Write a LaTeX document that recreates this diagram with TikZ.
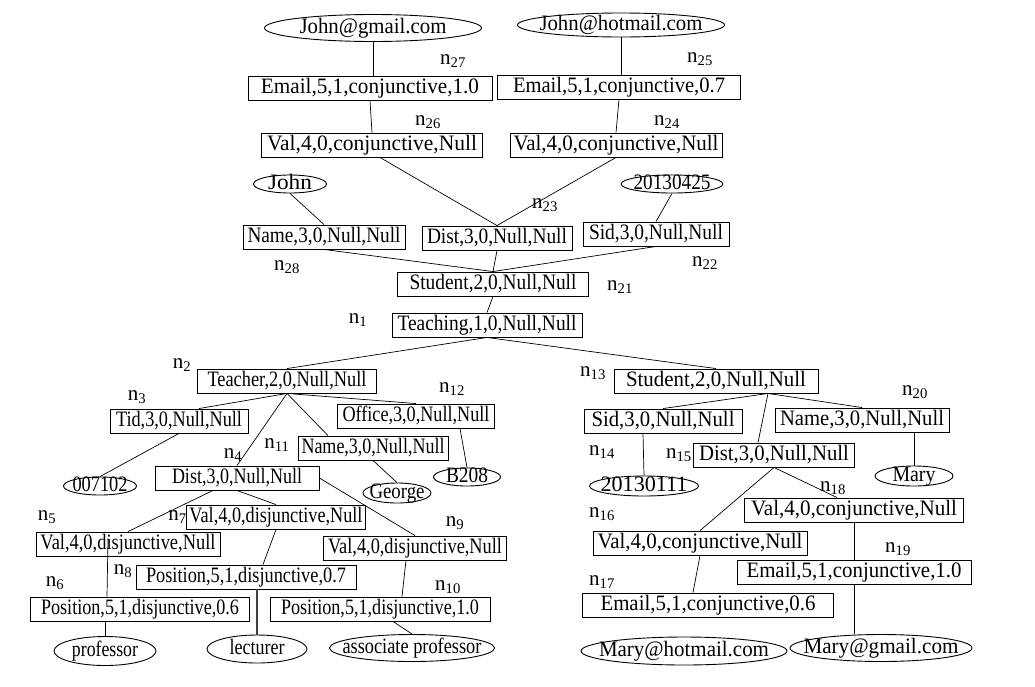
\documentclass[tikz,border=0pt]{standalone}
\usepackage{fontspec}
\usepackage{graphicx}
\setmainfont{Liberation Serif}
\usetikzlibrary{shapes.geometric,calc}

% squeeze a text horizontally to a given width
\newcommand\fitw[2]{\resizebox{#1}{\height}{#2}}

\begin{document}
\begin{tikzpicture}[x=1pt,y=-1pt,
  every node/.style={font=\fontsize{22}{26}\selectfont},
  box/.style={draw,rectangle,inner sep=0pt,minimum height=24pt,text height=15pt,text depth=5pt,line width=0.9pt},
  oval/.style={draw,ellipse,inner sep=0pt,line width=0.9pt},
  word/.style={inner sep=0pt,text height=15pt,text depth=5pt},
  tag/.style={inner sep=0pt,font=\fontsize{21}{25}\selectfont},
  link/.style={line width=0.7pt}]

\useasboundingbox (0,0) rectangle (1035,686);

% ---------- upper student subtree ----------
\node[oval,minimum width=217pt,minimum height=27pt] (ejg) at (373,28) {};
\node[word] (ejg-t) at (ejg) {\fitw{147pt}{John@gmail.com}};
\node[oval,minimum width=207pt,minimum height=24pt] (ejh) at (621,25) {};
\node[word] (ejh-t) at (ejh) {\fitw{163pt}{John@hotmail.com}};

\node[box,minimum width=244pt] (n27) at (370,88) {\fitw{218pt}{Email,5,1,conjunctive,1.0}};
\node[box,minimum width=243pt] (n25) at (619,87) {\fitw{212pt}{Email,5,1,conjunctive,0.7}};
\node[box,minimum width=221pt] (n26) at (372,145) {\fitw{210pt}{Val,4,0,conjunctive,Null}};
\node[box,minimum width=212pt] (n24) at (616,145) {\fitw{205pt}{Val,4,0,conjunctive,Null}};

\node[oval,minimum width=73pt,minimum height=18pt] (ejohn) at (290,184) {};
\node[word] (ejohn-t) at (ejohn) {\fitw{44pt}{John}};
\node[oval,minimum width=102pt,minimum height=18pt] (esid1) at (672,184) {};
\node[word] (esid1-t) at (esid1) {\fitw{77pt}{20130425}};

\node[box,minimum width=162pt] (n28) at (324,237) {\fitw{153pt}{Name,3,0,Null,Null}};
\node[box,minimum width=150pt] (n23) at (497,238) {\fitw{140pt}{Dist,3,0,Null,Null}};
\node[box,minimum width=146pt] (n22) at (656,234) {\fitw{134pt}{Sid,3,0,Null,Null}};
\node[box,minimum width=191pt] (n21) at (493,284) {\fitw{167pt}{Student,2,0,Null,Null}};
\node[box,minimum width=190pt] (n1) at (487,325) {\fitw{179pt}{Teaching,1,0,Null,Null}};

% ---------- teacher subtree ----------
\node[box,minimum width=179pt] (n2) at (287,381) {\fitw{159pt}{Teacher,2,0,Null,Null}};
\node[box,minimum width=138pt] (n3) at (179,421) {\fitw{126pt}{Tid,3,0,Null,Null}};
\node[box,minimum width=157pt] (n12) at (416,416) {\fitw{147pt}{Office,3,0,Null,Null}};
\node[box,minimum width=150pt] (n11) at (373,448) {\fitw{143pt}{Name,3,0,Null,Null}};
\node[box,minimum width=164pt] (n4) at (237,478) {\fitw{130pt}{Dist,3,0,Null,Null}};

\node[oval,minimum width=73pt,minimum height=18pt] (etid) at (100,486) {};
\node[word] (etid-t) at (etid) {\fitw{55pt}{007102}};
\node[oval,minimum width=68pt,minimum height=20pt] (egeorge) at (397,493) {};
\node[word] (egeorge-t) at (egeorge) {\fitw{55pt}{George}};
\node[oval,minimum width=67pt,minimum height=18pt] (eoffice) at (467,477) {};
\node[word] (eoffice-t) at (eoffice) {\fitw{42pt}{B208}};

\node[box,minimum width=179pt] (n7) at (276,517) {\fitw{173pt}{Val,4,0,disjunctive,Null}};
\node[box,minimum width=184pt] (n5) at (128,544) {\fitw{175pt}{Val,4,0,disjunctive,Null}};
\node[box,minimum width=183pt] (n9) at (415,548) {\fitw{174pt}{Val,4,0,disjunctive,Null}};
\node[box,minimum width=220pt] (n8) at (246,577) {\fitw{200pt}{Position,5,1,disjunctive,0.7}};
\node[box,minimum width=219pt] (n6) at (140,609) {\fitw{198pt}{Position,5,1,disjunctive,0.6}};
\node[box,minimum width=220pt] (n10) at (380,609) {\fitw{198pt}{Position,5,1,disjunctive,1.0}};

\node[oval,minimum width=102pt,minimum height=29pt] (eprof) at (105,651) {};
\node[word] (eprof-t) at (eprof) {\fitw{66pt}{professor}};
\node[oval,minimum width=100pt,minimum height=28pt] (electr) at (257,649) {};
\node[word] (electr-t) at (electr) {\fitw{55pt}{lecturer}};
\node[oval,minimum width=165pt,minimum height=27pt] (eassoc) at (412,648) {};
\node[word] (eassoc-t) at (eassoc) {\fitw{139pt}{associate professor}};

% ---------- lower student subtree ----------
\node[box,minimum width=204pt] (n13) at (716,381) {\fitw{180pt}{Student,2,0,Null,Null}};
\node[box,minimum width=158pt] (n14) at (663,421) {\fitw{143pt}{Sid,3,0,Null,Null}};
\node[box,minimum width=174pt] (n20) at (862,420) {\fitw{164pt}{Name,3,0,Null,Null}};
\node[box,minimum width=161pt] (n15) at (774,455) {\fitw{150pt}{Dist,3,0,Null,Null}};

\node[oval,minimum width=78pt,minimum height=20pt] (emary) at (914,476) {};
\node[word] (emary-t) at (emary) {\fitw{43pt}{Mary}};
\node[oval,minimum width=109pt,minimum height=20pt] (esid2) at (644,486) {};
\node[word] (esid2-t) at (esid2) {\fitw{87pt}{20130111}};

\node[box,minimum width=219pt] (n18) at (854,510) {\fitw{206pt}{Val,4,0,conjunctive,Null}};
\node[box,minimum width=214pt] (n16) at (700,543) {\fitw{205pt}{Val,4,0,conjunctive,Null}};
\node[box,minimum width=234pt] (n19) at (854,572) {\fitw{215pt}{Email,5,1,conjunctive,1.0}};
\node[box,minimum width=251pt] (n17) at (708,605) {\fitw{215pt}{Email,5,1,conjunctive,0.6}};

\node[oval,minimum width=206pt,minimum height=28pt] (emh) at (684,651) {};
\node[word] (emh-t) at (emh) {\fitw{170pt}{Mary@hotmail.com}};
\node[oval,minimum width=182pt,minimum height=27pt] (emg) at (881,648) {};
\node[word] (emg-t) at (emg) {\fitw{155pt}{Mary@gmail.com}};

% ---------- node numbers ----------
\node[tag] (l27) at (453,61) {n\textsubscript{27}};
\node[tag] (l25) at (700,59) {n\textsubscript{25}};
\node[tag] (l26) at (428,122) {n\textsubscript{26}};
\node[tag] (l24) at (667,122) {n\textsubscript{24}};
\node[tag] (l23) at (545,205) {n\textsubscript{23}};
\node[tag] (l28) at (287,267) {n\textsubscript{28}};
\node[tag] (l22) at (705,263) {n\textsubscript{22}};
\node[tag] (l21) at (620,287) {n\textsubscript{21}};
\node[tag] (l1) at (358,320) {n\textsubscript{1}};
\node[tag] (l2) at (182,365) {n\textsubscript{2}};
\node[tag] (l3) at (137,397) {n\textsubscript{3}};
\node[tag] (l12) at (452,389) {n\textsubscript{12}};
\node[tag] (l11) at (277,445) {n\textsubscript{11}};
\node[tag] (l4) at (233,455) {n\textsubscript{4}};
\node[tag] (l5) at (47,517) {n\textsubscript{5}};
\node[tag,anchor=east] (l7) at (187,517) {n\textsubscript{7}};
\node[tag] (l9) at (455,523) {n\textsubscript{9}};
\node[tag] (l8) at (123,571) {n\textsubscript{8}};
\node[tag] (l6) at (55,583) {n\textsubscript{6}};
\node[tag] (l10) at (448,587) {n\textsubscript{10}};
\node[tag] (l13) at (593,373) {n\textsubscript{13}};
\node[tag] (l20) at (915,392) {n\textsubscript{20}};
\node[tag] (l14) at (602,452) {n\textsubscript{14}};
\node[tag,anchor=east] (l15) at (692,455) {n\textsubscript{15}};
\node[tag] (l18) at (833,488) {n\textsubscript{18}};
\node[tag] (l16) at (602,514) {n\textsubscript{16}};
\node[tag] (l19) at (898,549) {n\textsubscript{19}};
\node[tag] (l17) at (602,582) {n\textsubscript{17}};

% ---------- branch points ----------
\coordinate (n13b) at ($(n13.south)+(52,0)$);

% ---------- connectors ----------
\begin{scope}[link]
  \draw (ejg.south) -- (ejg.south |- n27.north);
  \draw (ejh.south) -- (ejh.south |- n25.north);
  \draw (n27.south) -- (n26.north);
  \draw (n25.south) -- (n24.north);
  \draw ($(n26.south)+(8,0)$) -- (n23.north);
  \draw (n24.south) -- (n23.north);
  \draw (ejohn.south) -- (n28.north);
  \draw (esid1.south) -- (n22.north);
  \draw (n28.south) -- (n21.north);
  \draw (n23.south) -- (n21.north);
  \draw (n22.south) -- (n21.north);
  \draw (n21.south) -- (n1.north);
  \draw (n1.south) -- (n2.north);
  \draw (n1.south) -- (n13.north);

  \draw (n2.south) -- ($(n3.north)+(20,0)$);
  \draw (n2.south) -- (n4.north);
  \draw (n2.south) -- ($(n11.north)+(-45,0)$);
  \draw (n2.south) -- (n12.north);
  \draw ($(n12.south)+(44,0)$) -- (eoffice.north);
  \draw (n11.south) -- (egeorge.north);
  \draw (n3.south) -- (etid.north);
  \draw ($(n4.south)+(-24,0)$) -- (n5.north);
  \draw (n4.south) -- (n7.north);
  \draw (n4.east) -- (n9.north);
  \draw (n7.south) -- ($(n8.north)+(17,0)$);
  \draw ($(n5.north)+(-20,7)$) -- ($(n6.north)+(-33,0)$);
  \draw[line width=1.3pt,black!75] ($(n8.south)+(11,0)$) -- (electr.north);
  \draw ($(n9.south)+(-9,0)$) -- ($(n10.north)+(22,0)$);
  \draw ($(n6.south)+(-35,0)$) -- (eprof.north);
  \draw ($(n10.south)+(13,0)$) -- (eassoc.north);

  \draw (n13b) -- (n14.north);
  \draw (n13b) -- (n20.north);
  \draw (n13b) -- ($(n15.north)+(-16,0)$);
  \draw ($(n14.south)+(-20,0)$) -- (esid2.north);
  \draw ($(n20.south)+(52,0)$) -- (emary.north);
  \draw (n15.south) -- ($(n18.north)+(-17,0)$);
  \draw (n15.south) -- (n16.north);
  \draw (n18.south) -- (n19.north);
  \draw (n16.south) -- ($(n17.north)+(-15,0)$);
  \draw ($(n17.south)+(-25,0)$) -- ($(n17.south)+(-25,0)$ |- emh.north);
  \draw (n19.south) -- (n19.south |- emg.north);
\end{scope}
\end{tikzpicture}
\end{document}
